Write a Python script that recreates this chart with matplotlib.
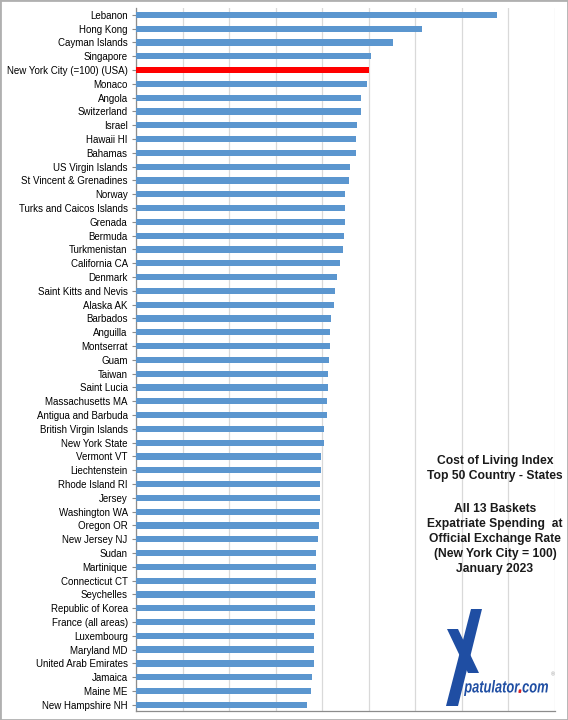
import matplotlib.pyplot as plt
from matplotlib.patches import Rectangle, PathPatch, Polygon
from matplotlib.textpath import TextPath
from matplotlib.font_manager import FontProperties
from matplotlib.transforms import Affine2D, IdentityTransform

plt.rcParams['font.family'] = ['Liberation Sans', 'DejaVu Sans']

places = ["Lebanon", "Hong Kong", "Cayman Islands", "Singapore", "New York City (=100) (USA)",
          "Monaco", "Angola", "Switzerland", "Israel", "Hawaii HI", "Bahamas",
          "US Virgin Islands", "St Vincent & Grenadines", "Norway", "Turks and Caicos Islands",
          "Grenada", "Bermuda", "Turkmenistan", "California CA", "Denmark",
          "Saint Kitts and Nevis", "Alaska AK", "Barbados", "Anguilla", "Montserrat", "Guam",
          "Taiwan", "Saint Lucia", "Massachusetts MA", "Antigua and Barbuda",
          "British Virgin Islands", "New York State", "Vermont VT", "Liechtenstein",
          "Rhode Island RI", "Jersey", "Washington WA", "Oregon OR", "New Jersey NJ", "Sudan",
          "Martinique", "Connecticut CT", "Seychelles", "Republic of Korea",
          "France (all areas)", "Luxembourg", "Maryland MD", "United Arab Emirates",
          "Jamaica", "Maine ME", "New Hampshire NH"]
index = [155.2, 122.8, 110.5, 100.9, 100.0,
         99.1, 96.8, 96.8, 95.0, 94.7, 94.5,
         92.1, 91.5, 89.8, 89.8,
         89.8, 89.4, 88.9, 87.5, 86.4,
         85.3, 85.1, 83.9, 83.2, 83.2, 82.9,
         82.6, 82.5, 82.0, 82.0,
         80.7, 80.7, 79.6, 79.6,
         79.2, 79.2, 78.9, 78.6, 78.3, 77.3,
         77.3, 77.2, 76.9, 76.9,
         76.9, 76.4, 76.4, 76.4,
         75.7, 75.3, 73.6]

title_lines = ["Cost of Living Index", "Top 50 Country - States"]
note_lines = ["All 13 Baskets", "Expatriate Spending  at", "Official Exchange Rate",
              "(New York City = 100)", "January 2023"]

colors = ["#ff0000" if p.startswith("New York City") else "#5b96cf" for p in places]

fig = plt.figure(figsize=(5.68, 7.2), dpi=100)
ax = fig.add_axes([136 / 568, 9 / 720, 419 / 568, 703 / 720])

y = range(len(places))
ax.barh(y, index, height=0.45, color=colors, zorder=3)
ax.set_xlim(0, 180)
ax.set_ylim(len(places) - 0.55, -0.5)
ax.set_yticks(list(y))
ax.set_yticklabels(places, fontsize=7.0)
ax.set_xticks(range(0, 181, 20))
ax.set_xticklabels([])
ax.tick_params(axis='x', length=0)
ax.tick_params(axis='y', length=3, width=0.8, color='#8c8c8c', pad=3)
ax.grid(axis='x', color='#d9d9d9', linewidth=0.9, zorder=0)

for s in ['top', 'right']:
    ax.spines[s].set_visible(False)
for s in ['left', 'bottom']:
    ax.spines[s].set_color('#8c8c8c')
    ax.spines[s].set_linewidth(0.9)

# text box on the right, one line at a time (pixel y from top)
for txt, ypx in zip(title_lines + note_lines, [461, 476, 509, 524, 539, 554, 569]):
    fig.text(495 / 568, 1 - ypx / 720, txt, ha='center', va='center', fontsize=8.7,
             fontweight='bold', color='#1a1a1a')

# logo: stylised X as two strokes (pixel coords, y from top)
blue = '#1f4ea3'
long_leg = [(471, 609), (482, 609), (458, 706), (446, 706)]
short_leg = [(447, 629), (458, 629), (479, 673), (468, 673)]
for leg in (long_leg, short_leg):
    fig.patches.append(Polygon([(px, 720 - py) for px, py in leg], closed=True,
                               transform=IdentityTransform(), facecolor=blue,
                               edgecolor='none'))

fp_t = FontProperties(family='Liberation Sans', weight='bold', style='italic')
full = TextPath((0, 0), "patulator.com", size=100, prop=fp_t)
ef = full.get_extents()
sx = (548 - 464) / ef.width
sy = 16 / ef.height
tr = Affine2D().translate(-ef.x0, -ef.y0).scale(sx, sy).translate(464, 720 - 696)
fig.patches.append(PathPatch(tr.transform_path(full), transform=IdentityTransform(),
                             facecolor=blue, edgecolor='none'))
upto = TextPath((0, 0), "patulator.", size=100, prop=fp_t).get_extents()
dot = TextPath((0, 0), ".", size=100, prop=fp_t)
ed = dot.get_extents()
trd = Affine2D().translate(-ed.x1 + upto.x1 - ef.x0, -ef.y0).scale(sx, sy).translate(464, 720 - 696)
fig.patches.append(PathPatch(trd.transform_path(dot), transform=IdentityTransform(),
                             facecolor='#e02020', edgecolor='#e02020', linewidth=0.6))
fig.text(551 / 568, 1 - 675 / 720, "®", fontsize=4, color='#999999', ha='left', va='center')

fig.patches.append(Rectangle((0, 0), 1, 1, transform=fig.transFigure, fill=False,
                             edgecolor='#b0b0b0', linewidth=2))

fig.savefig("out.png", dpi=100)
